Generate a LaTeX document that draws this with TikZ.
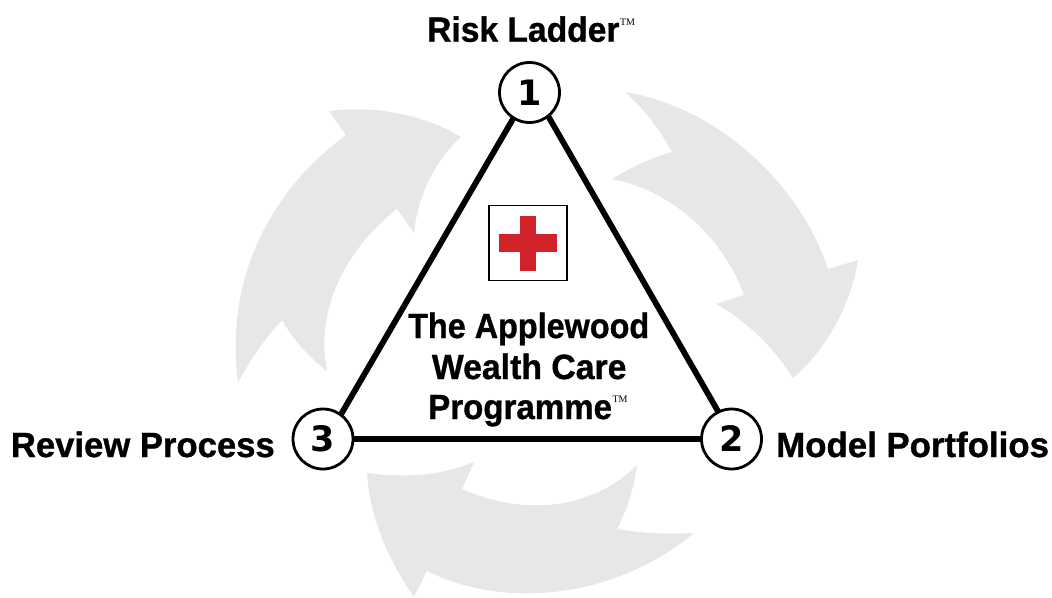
\documentclass[tikz,border=0pt]{standalone}
\usepackage{graphicx}
\usepackage{fontspec}
\setmainfont{Liberation Sans}
\newfontfamily\lblfont[FakeBold=1]{Liberation Sans Bold}
\newfontfamily\numfont{DejaVu Sans Bold}
\newfontfamily\tmfont{Liberation Serif}
\definecolor{arrowgrey}{HTML}{E6E7E8}
\definecolor{crossred}{HTML}{D2232A}
\newcommand{\tm}{\raisebox{0.47em}{\tmfont\fontsize{10}{10}\selectfont\kern0.5pt TM}}
\newcommand{\sx}[2]{\scalebox{#1}[1]{#2}}
\tikzset{
  cyclearrow/.style={fill=arrowgrey,draw=none},
  stepnum/.style={circle,draw=black,line width=2.8pt,fill=white,minimum size=60pt,inner sep=0pt,font=\numfont\fontsize{35}{35}\selectfont},
  side/.style={line width=5.8pt,draw=black,shorten <=-2pt,shorten >=-2pt},
  lbl/.style={inner sep=0pt,font=\lblfont\fontsize{35}{35}\selectfont,text=black},
  crossbox/.style={draw=black,line width=1.3pt,fill=white,minimum width=78pt,minimum height=74.5pt,inner sep=0pt},
  crossbar/.style={fill=crossred,draw=none,inner sep=0pt}
}
\begin{document}
\begin{tikzpicture}[x=1pt,y=-1pt]
\useasboundingbox (0,0) rectangle (1052,597);
% grey cycle arrows
\fill[cyclearrow] (625,92) .. controls (720,108) and (800,185) .. (828,269)
  -- (858,260) .. controls (851,305) and (826,350) .. (793,378)
  .. controls (772,345) and (745,320) .. (716,304) -- (744,295)
  .. controls (722,235) and (670,190) .. (612,179)
  .. controls (630,168) and (650,158) .. (672,152)
  .. controls (660,130) and (645,110) .. (625,92) -- cycle;
\fill[cyclearrow] (414,597) .. controls (385,555) and (370,515) .. (367,473)
  .. controls (405,478) and (440,476) .. (474,462) -- (462,489)
  .. controls (520,515) and (590,512) .. (637,465)
  .. controls (634,488) and (627,510) .. (617,529)
  .. controls (645,534) and (670,534) .. (694,533)
  .. controls (620,595) and (510,612) .. (427,571) -- cycle;
\fill[cyclearrow] (461,137) .. controls (435,160) and (418,195) .. (414,233)
  -- (397,209) .. controls (345,250) and (315,310) .. (327,371)
  .. controls (310,358) and (293,340) .. (282,320)
  .. controls (265,338) and (250,360) .. (238,383)
  .. controls (225,285) and (265,195) .. (346,135)
  -- (329,111) .. controls (375,105) and (425,115) .. (461,137) -- cycle;
% circles
\node[stepnum] (n1) at (529.5,92.5) {1};
\node[stepnum] (n2) at (731.5,439) {2};
\node[stepnum] (n3) at (323,439) {3};
% triangle
\draw[side] (n1.-52) -- (n2.116);
\draw[side] (n1.-122) -- (n3.54);
\draw[side] (n3.east) -- (n2.west);
% cross
\node[crossbox] (box) at (528,243) {};
\node[crossbar,minimum width=57.5pt,minimum height=18.3pt] (barh) at (528,243.2) {};
\node[crossbar,minimum width=16pt,minimum height=55pt] (barv) at (528,243.2) {};
% labels
\node[lbl,anchor=base west] (risk) at (427,41.7) {\sx{.96}{Risk Ladder}\tm};
\node[lbl,anchor=base east] (review) at (275,457) {\sx{.99}{Review Process}};
\node[lbl,anchor=base west] (model) at (776,457) {\sx{.995}{Model Portfolios}};
\node[lbl,anchor=base west] (title) at (408,338) {\sx{.925}{The Applewood}};
\node[lbl,anchor=base west] (title2) at (431.7,379) {\sx{.965}{Wealth Care}};
\node[lbl,anchor=base west] (title3) at (428,419) {\sx{.945}{Programme}\tm};
\end{tikzpicture}
\end{document}
